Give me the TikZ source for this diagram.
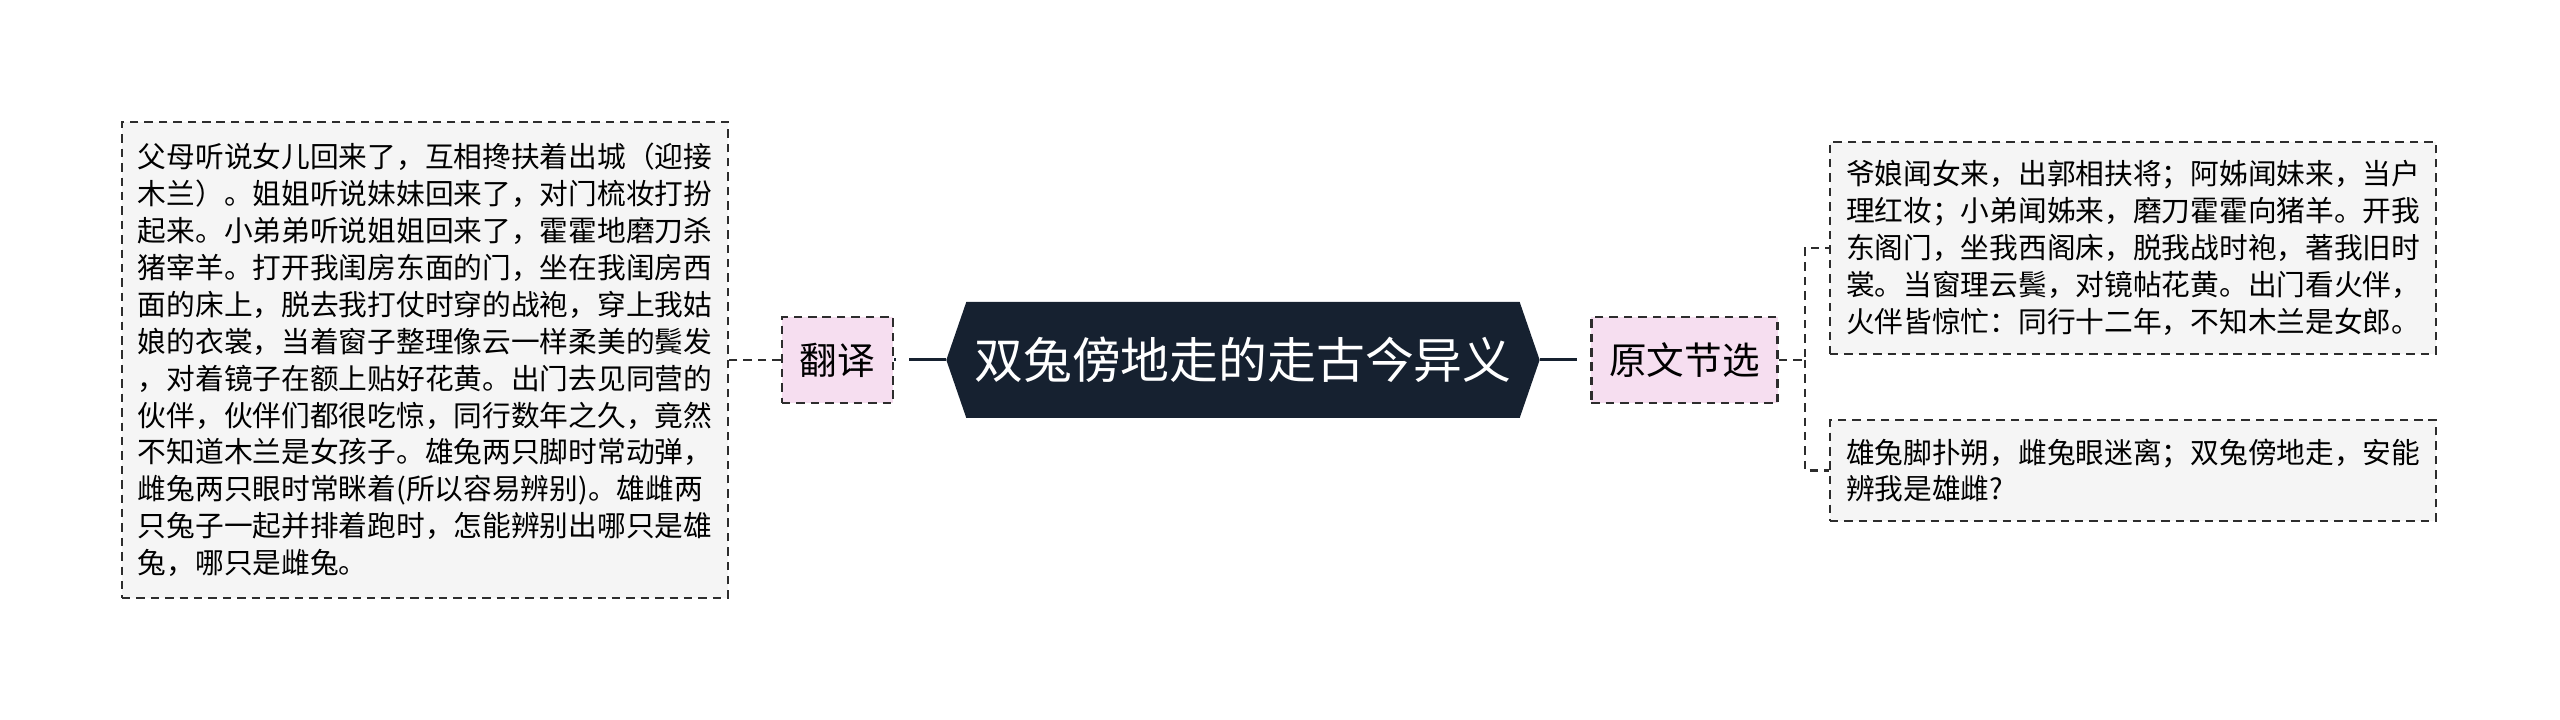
\documentclass[tikz,border=0pt]{standalone}
\usepackage{fontspec}
\usepackage{tikz}
\usetikzlibrary{calc,shapes.symbols}
\newfontfamily\cjk{Noto Sans CJK SC}
\definecolor{rootblue}{RGB}{22,33,48}
\definecolor{topicpink}{RGB}{246,222,240}
\definecolor{leafgray}{RGB}{245,245,245}
\definecolor{edgegray}{RGB}{45,45,45}
\def\topicnode{\node[topic]}
\def\leafnode#1{\node[leaf,#1]}
\def\drawtwig{\draw[twig]}
\tikzset{
  root/.style={shape=signal, signal to=west and east, signal pointer angle=142,
    fill=rootblue, text=white, font=\cjk\fontsize{13.9}{16}\selectfont,
    minimum height=1.16cm, inner xsep=0.08cm, inner ysep=0pt},
  topic/.style={draw=edgegray, line width=0.7pt, dash pattern=on 2.4pt off 1.7pt,
    fill=topicpink, font=\cjk\fontsize{10.7}{13}\selectfont,
    minimum height=0.86cm, inner xsep=0.18cm, inner ysep=0pt},
  leaf/.style={draw=edgegray, line width=0.7pt, dash pattern=on 2.4pt off 1.7pt,
    fill=leafgray, font=\cjk\fontsize{8.17}{10.5}\selectfont,
    text width=5.74cm, align=left, inner xsep=0.16cm, inner ysep=0pt},
  twig/.style={edgegray, line width=0.7pt, dash pattern=on 2.4pt off 1.7pt},
  trunk/.style={rootblue, line width=0.85pt, dash pattern=on 10.5pt off 3.7pt}
}

\begin{document}
\begin{tikzpicture}
\coordinate (o) at (0,0);
\fill[white] ($ (o) + (-12.43,-3.6) $) rectangle ($ (o) + (13.17,3.6) $);
\useasboundingbox ($ (o) + (-12.43,-3.6) $) rectangle ($ (o) + (13.17,3.6) $);

\node[root] (root) at (o) {双兔傍地走的走古今异义};

% main topics, placed relative to (o)
\topicnode (trans) at ($ (o) + (-4.055,0) $) {翻译};
\topicnode (orig) at ($ (o) + (4.415,0) $) {原文节选};
\draw[trunk] (root.west) -- (trans.east);
\draw[trunk] (root.east) -- (orig.west);

% translation
\leafnode{minimum height=4.76cm} (trans_text) at ($ (o) + (-8.18,0) $) {父母听说女儿回来了，互相搀扶着出城（迎接\\木兰）。姐姐听说妹妹回来了，对门梳妆打扮\\起来。小弟弟听说姐姐回来了，霍霍地磨刀杀\\猪宰羊。打开我闺房东面的门，坐在我闺房西\\面的床上，脱去我打仗时穿的战袍，穿上我姑\\娘的衣裳，当着窗子整理像云一样柔美的鬓发\\，对着镜子在额上贴好花黄。出门去见同营的\\伙伴，伙伴们都很吃惊，同行数年之久，竟然\\不知道木兰是女孩子。雄兔两只脚时常动弹，\\雌兔两只眼时常眯着(所以容易辨别)。雄雌两\\只兔子一起并排着跑时，怎能辨别出哪只是雄\\兔，哪只是雌兔。};
\drawtwig (trans.west) -- (trans_text.east);

% original text
\leafnode{minimum height=2.12cm} (orig_a) at ($ (o) + (8.90,1.12) $) {爷娘闻女来，出郭相扶将；阿姊闻妹来，当户\\理红妆；小弟闻姊来，磨刀霍霍向猪羊。开我\\东阁门，坐我西阁床，脱我战时袍，著我旧时\\裳。当窗理云鬓，对镜帖花黄。出门看火伴，\\火伴皆惊忙：同行十二年，不知木兰是女郎。};
\leafnode{minimum height=1.01cm} (orig_b) at ($ (o) + (8.90,-1.105) $) {雄兔脚扑朔，雌兔眼迷离；双兔傍地走，安能\\辨我是雄雌?};
\coordinate (fork) at ($ (o) + (5.62,0) $);
\drawtwig (orig.east) -- (fork) |- (orig_a.west);
\drawtwig (fork) |- (orig_b.west);
\end{tikzpicture}
\end{document}
